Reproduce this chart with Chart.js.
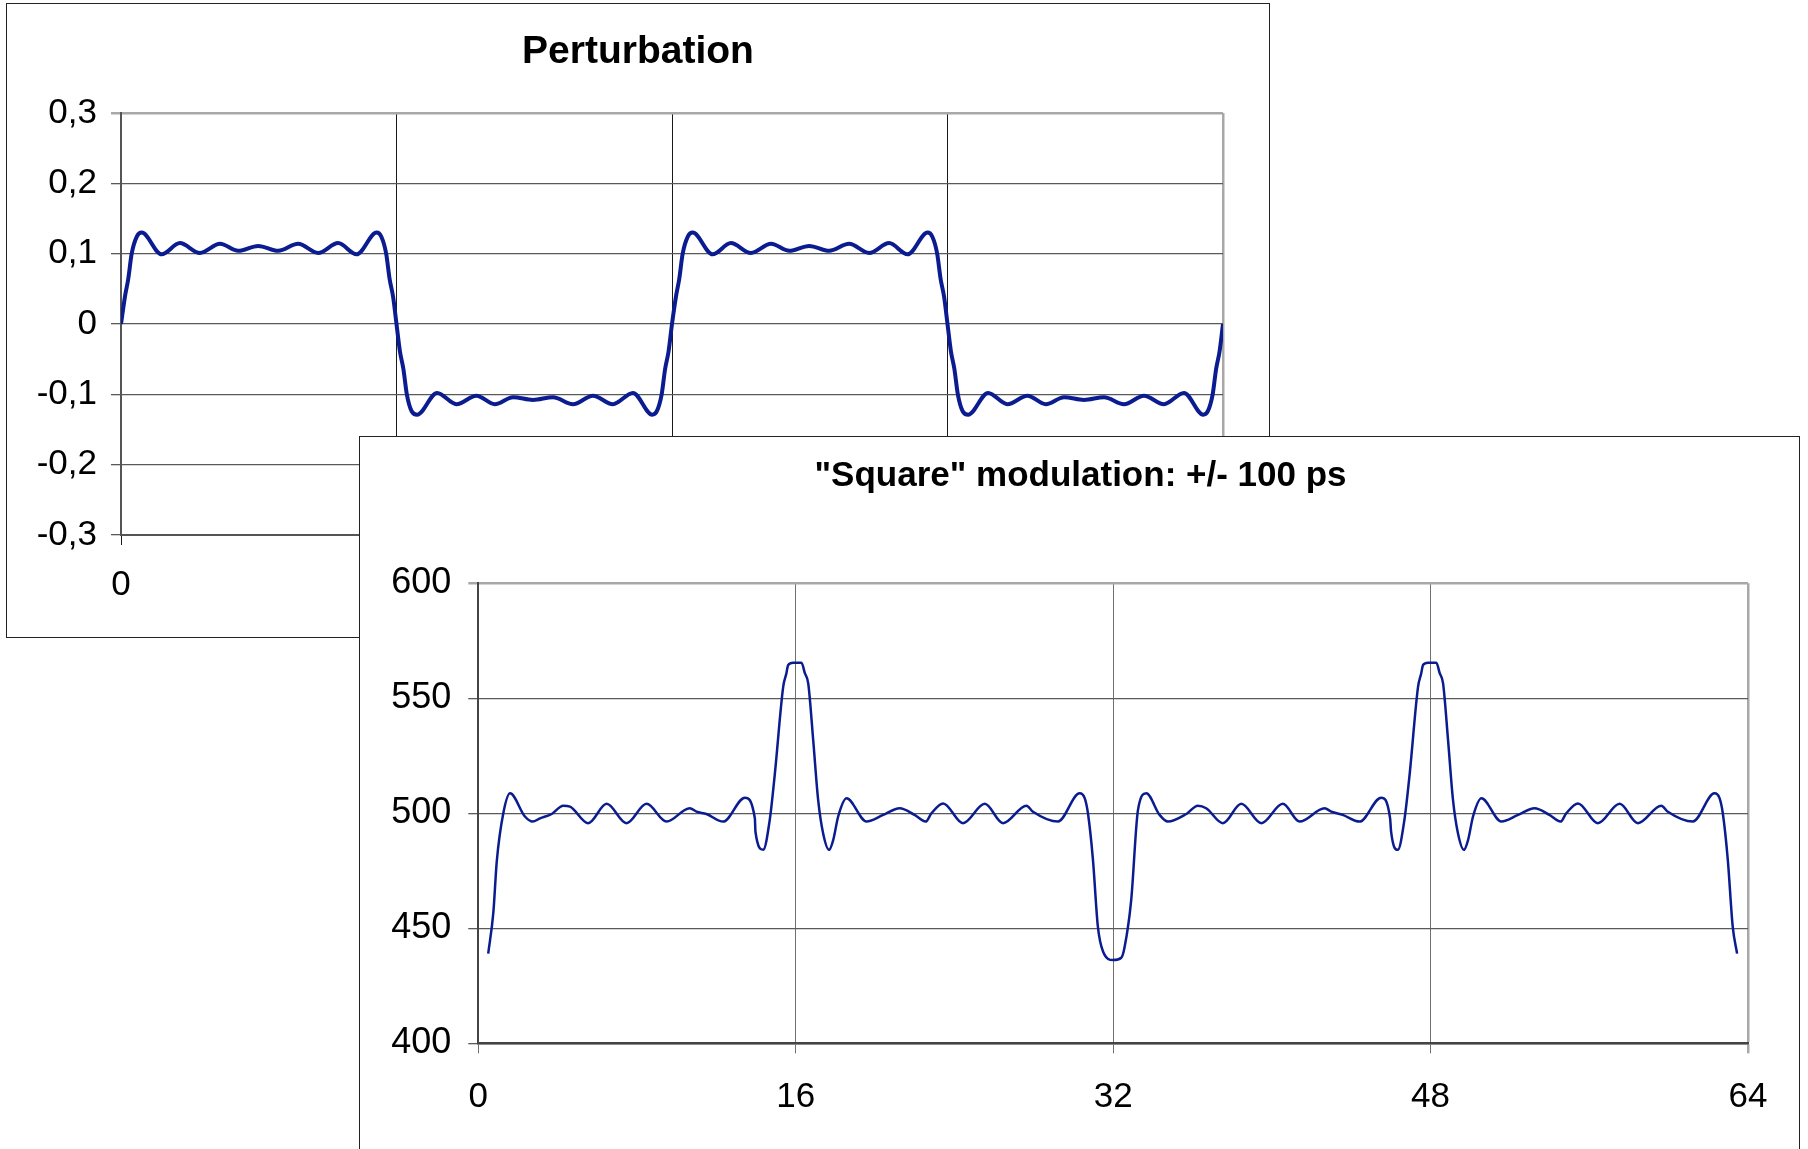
<!DOCTYPE html>
<html lang="en">
<head>
    <meta charset="UTF-8">
    <title>Perturbation / Square modulation</title>
    <script src="https://cdn.jsdelivr.net/npm/chart.js"></script>
    <style>
        body { margin: 0; background: #fff; overflow: hidden; width: 1808px; height: 1149px; position: relative; }
        .panel { position: absolute; border: 1px solid #222; background: #fff; }
        canvas { display: block; }
    </style>
</head>
<body>
    <div class="panel" style="left:6px; top:3px; width:1262px; height:633px;">
        <canvas id="perturbation" width="1262" height="633"></canvas>
    </div>
    <div class="panel" style="left:359px; top:436px; width:1439px; height:720px;">
        <canvas id="modulation" width="1439" height="720"></canvas>
    </div>

    <script>
        // perturbation (square wave with ripple)
        const pertX = [0, 0.23, 0.42, 0.62, 0.91, 1.2, 2.36, 3.42, 4.58, 5.75, 6.81, 7.97, 9.13, 10.29, 11.45, 12.61, 13.68, 14.85, 15.12, 15.4, 15.6, 15.8,
            16, 16.2, 16.4, 16.6, 16.88, 17.2, 18.36, 19.48, 20.64, 21.71, 22.77, 23.93, 25.09, 26.25, 27.41, 28.57, 29.73, 30.85, 31.12, 31.4, 31.6, 31.8,
            32, 32.23, 32.42, 32.62, 32.91, 33.2, 34.36, 35.42, 36.58, 37.75, 38.81, 39.97, 41.13, 42.29, 43.45, 44.61, 45.68, 46.85, 47.12, 47.4, 47.6, 47.8,
            48, 48.2, 48.4, 48.6, 48.88, 49.2, 50.36, 51.48, 52.64, 53.71, 54.77, 55.93, 57.09, 58.25, 59.41, 60.57, 61.73, 62.85, 63.12, 63.4, 63.6, 63.8, 64];
        const pertY = [0, 0.039, 0.064, 0.1, 0.124, 0.13, 0.099, 0.115, 0.101, 0.114, 0.104, 0.111, 0.104, 0.114, 0.101, 0.115, 0.099, 0.13, 0.124, 0.1, 0.064, 0.039,
            0, -0.039, -0.064, -0.1, -0.124, -0.129, -0.098, -0.114, -0.102, -0.114, -0.104, -0.108, -0.104, -0.114, -0.102, -0.114, -0.098, -0.129, -0.124, -0.1, -0.064, -0.039,
            0, 0.039, 0.064, 0.1, 0.124, 0.13, 0.099, 0.115, 0.101, 0.114, 0.104, 0.111, 0.104, 0.114, 0.101, 0.115, 0.099, 0.13, 0.124, 0.1, 0.064, 0.039,
            0, -0.039, -0.064, -0.1, -0.124, -0.129, -0.098, -0.114, -0.102, -0.114, -0.104, -0.108, -0.104, -0.114, -0.102, -0.114, -0.098, -0.129, -0.124, -0.1, -0.064, -0.039, 0];

        // "Square" modulation, ps
        const modX = [0.5, 0.76, 0.93, 1.26, 1.6, 2.35, 2.74, 3.11, 3.7, 4.28, 4.62, 5.54, 6.47, 7.47, 8.48, 9.49, 10.66, 11.0, 11.5, 12.34, 13.44, 13.94, 13.97, 14.36, 14.69, 14.95, 15.37, 15.53, 15.62, 15.87,
            16.29, 16.46, 16.63, 16.88, 17.13, 17.38, 17.68, 17.89, 18.14, 18.56, 19.57, 20.41, 21.24, 21.99, 22.55, 22.84, 23.43, 24.43, 25.53, 26.45, 27.63, 27.96, 29.22, 30.31, 30.57, 30.73, 30.98, 31.23, 31.49,
            32.0, 32.41, 32.58, 32.91, 33.25, 33.67, 34.34, 34.76, 35.69, 36.27, 36.69, 37.53, 38.46, 39.47, 40.55, 41.4, 42.66, 43.0, 43.57, 44.42, 45.51, 45.96, 46.01, 46.35, 46.68, 46.95, 47.37, 47.53, 47.62, 47.87,
            48.29, 48.46, 48.63, 48.88, 49.13, 49.38, 49.68, 49.89, 50.14, 50.56, 51.57, 52.41, 53.24, 53.99, 54.55, 54.84, 55.43, 56.43, 57.53, 58.45, 59.63, 59.96, 61.22, 62.31, 62.57, 62.73, 62.98, 63.23, 63.45];
        const modY = [439, 457, 479, 500, 508.7, 498.6, 496.4, 497.8, 499.7, 503.3, 502.9, 495.7, 504.1, 495.7, 504.1, 496.4, 502.2, 500.7, 499.7, 496.4, 506.8, 497.8, 492, 484.1, 497.1, 517.4, 555.1, 560.9, 564.5, 565.5,
            565.5, 560.9, 556.5, 531.9, 505.8, 491.3, 484.1, 488.4, 498.6, 506.5, 496.4, 499.3, 502.2, 499.3, 496.4, 500, 504.3, 495.7, 504.1, 495.7, 503.3, 500.7, 496.4, 508.7, 506.5, 500, 480, 450.7, 439.9,
            436.2, 437.2, 442, 462.3, 501.4, 508.7, 499.3, 496.4, 499.7, 503.3, 502.2, 495.7, 504.1, 495.7, 504.1, 496.4, 502.2, 500.7, 499.3, 496.4, 506.8, 497.8, 492, 484.1, 497.1, 517.4, 555.1, 560.9, 564.5, 565.5,
            565.5, 560.9, 556.5, 531.9, 505.8, 491.3, 484.1, 488.4, 498.6, 506.5, 496.4, 499.3, 502.2, 499.3, 496.4, 500, 504.3, 495.7, 504.1, 495.7, 503.3, 500.7, 496.4, 508.7, 506.5, 500, 480, 450.7, 439];

        const FONT = "'Liberation Sans', Arial, sans-serif";
        const LINE = '#0a1c8f';

        const commaLabel = (v) => {
            const r = Math.round(v * 10) / 10;
            return r === 0 ? '0' : String(r).replace('.', ',');
        };

        // title drawn at a fixed spot of the panel (Excel centres it over the whole panel, not the plot)
        const panelTitle = {
            id: 'panelTitle',
            afterDraw(chart, args, opts) {
                const ctx = chart.ctx;
                ctx.save();
                ctx.font = 'bold ' + opts.size + 'px ' + FONT;
                ctx.fillStyle = '#000';
                ctx.textAlign = 'center';
                ctx.textBaseline = 'middle';
                ctx.fillText(opts.text, opts.x, opts.y);
                ctx.restore();
            }
        };

        // grid: plot-area top/right edge is a lighter, wider grey line
        const yGrid = (max, col) => ({
            color: ctx => ctx.tick && ctx.tick.value === max ? '#a8a8a8' : col,
            lineWidth: ctx => ctx.tick && ctx.tick.value === max ? 2.5 : 1.3,
            tickLength: 10
        });
        const xGrid = (col) => ({
            color: ctx => ctx.tick && ctx.tick.value === 64 ? '#a8a8a8' : col,
            lineWidth: ctx => ctx.tick && ctx.tick.value === 64 ? 2.5 : 1,
            tickLength: 10
        });

        new Chart(document.getElementById('perturbation'), {
            type: 'line',
            data: {
                datasets: [{
                    data: pertX.map((x, i) => ({ x: x, y: pertY[i] })),
                    borderColor: LINE,
                    borderWidth: 4,
                    pointRadius: 0,
                    cubicInterpolationMode: 'monotone'
                }]
            },
            plugins: [panelTitle],
            options: {
                responsive: false,
                animation: false,
                layout: { padding: { left: 0, right: 46, top: 109, bottom: 0 } },
                plugins: {
                    legend: { display: false },
                    tooltip: { enabled: false },
                    panelTitle: { text: 'Perturbation', size: 39, x: 631, y: 48 }
                },
                scales: {
                    x: {
                        type: 'linear', min: 0, max: 64,
                        afterFit: s => { s.height = 102; },
                        ticks: { stepSize: 16, color: '#000', padding: 19, maxRotation: 0, font: { family: FONT, size: 35 } },
                        grid: xGrid('#1a1a1a'),
                        border: { color: '#555', width: 2 }
                    },
                    y: {
                        min: -0.3, max: 0.3,
                        afterFit: s => { s.width = 114; },
                        ticks: { stepSize: 0.1, color: '#000', padding: 14, callback: commaLabel, font: { family: FONT, size: 35 } },
                        grid: yGrid(0.3, '#5a5a5a'),
                        border: { color: '#555', width: 2 }
                    }
                }
            }
        });

        new Chart(document.getElementById('modulation'), {
            type: 'line',
            data: {
                datasets: [{
                    data: modX.map((x, i) => ({ x: x, y: modY[i] })),
                    borderColor: LINE,
                    borderWidth: 2.5,
                    pointRadius: 0,
                    cubicInterpolationMode: 'monotone'
                }]
            },
            plugins: [panelTitle],
            options: {
                responsive: false,
                animation: false,
                layout: { padding: { left: 0, right: 51, top: 146.3, bottom: 0 } },
                plugins: {
                    legend: { display: false },
                    tooltip: { enabled: false },
                    panelTitle: { text: '"Square" modulation: +/- 100 ps', size: 35, x: 720.5, y: 39.2 }
                },
                scales: {
                    x: {
                        type: 'linear', min: 0, max: 64,
                        afterFit: s => { s.height = 113.7; },
                        ticks: { stepSize: 16, color: '#000', padding: 23, maxRotation: 0, font: { family: FONT, size: 35 } },
                        grid: xGrid('#707070'),
                        border: { color: '#444', width: 2.5 }
                    },
                    y: {
                        min: 400, max: 600,
                        afterFit: s => { s.width = 118.3; },
                        ticks: { stepSize: 50, color: '#000', padding: 17, font: { family: FONT, size: 36 } },
                        grid: yGrid(600, '#5a5a5a'),
                        border: { color: '#444', width: 2 }
                    }
                }
            }
        });
    </script>
</body>
</html>
